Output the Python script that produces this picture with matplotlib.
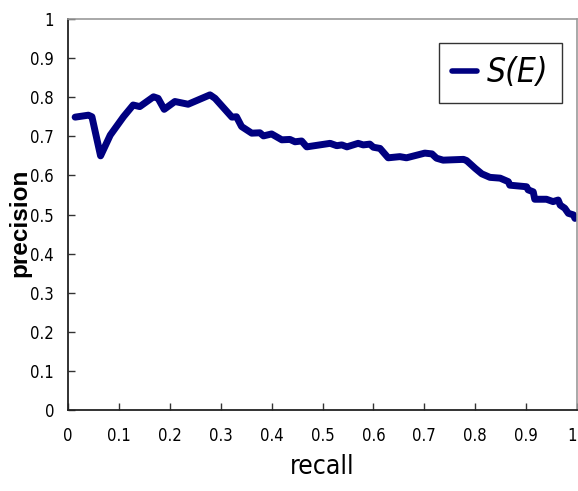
import matplotlib
matplotlib.use("Agg")
import matplotlib.pyplot as plt
from matplotlib import font_manager as fm

recall = [0.014, 0.040, 0.047, 0.064, 0.083, 0.109, 0.128, 0.141, 0.168, 0.177,
          0.189, 0.210, 0.236, 0.279, 0.289, 0.322, 0.331, 0.341, 0.361, 0.377,
          0.384, 0.400, 0.420, 0.436, 0.446, 0.459, 0.469, 0.515, 0.528, 0.538,
          0.548, 0.570, 0.580, 0.593, 0.600, 0.613, 0.629, 0.652, 0.665, 0.701,
          0.715, 0.724, 0.737, 0.777, 0.783, 0.800, 0.813, 0.829, 0.849, 0.865,
          0.868, 0.901, 0.904, 0.914, 0.917, 0.940, 0.953, 0.963, 0.967, 0.976,
          0.983, 0.993, 0.996]
precision = [0.749, 0.754, 0.750, 0.650, 0.703, 0.750, 0.780, 0.776, 0.801, 0.797,
             0.769, 0.789, 0.782, 0.806, 0.797, 0.749, 0.750, 0.725, 0.708, 0.709,
             0.701, 0.706, 0.691, 0.692, 0.686, 0.688, 0.673, 0.682, 0.676, 0.678,
             0.673, 0.682, 0.678, 0.680, 0.672, 0.669, 0.645, 0.648, 0.645, 0.657,
             0.655, 0.644, 0.639, 0.641, 0.638, 0.618, 0.604, 0.595, 0.593, 0.584,
             0.575, 0.571, 0.563, 0.558, 0.539, 0.539, 0.533, 0.537, 0.524, 0.516,
             0.503, 0.499, 0.490]
series_label = "S(E)"
ticks = [0, 0.1, 0.2, 0.3, 0.4, 0.5, 0.6, 0.7, 0.8, 0.9, 1]
tick_labels = ["0", "0.1", "0.2", "0.3", "0.4", "0.5", "0.6", "0.7", "0.8", "0.9", "1"]

def narrow_props(size, style="normal"):
    return fm.FontProperties(family="DejaVu Sans", stretch="condensed",
                             style=style, size=size)

W, H = 578, 491
fig = plt.figure(figsize=(W / 100, H / 100), dpi=100)
ax = fig.add_axes([68 / W, 1 - 410 / H, (577 - 68) / W, (410 - 19) / H])

ax.plot(recall, precision, color="#000080", lw=5, solid_capstyle="round",
        solid_joinstyle="round", label=series_label)

ax.set_xlim(0, 1)
ax.set_ylim(0, 1)
ax.set_xticks(ticks)
ax.set_xticklabels(tick_labels, fontproperties=narrow_props(12))
ax.get_xticklabels()[-1].set_horizontalalignment("right")
ax.set_yticks(ticks)
ax.set_yticklabels(tick_labels, fontproperties=narrow_props(12))
ax.tick_params(direction="in", length=5, width=1, top=False, right=False,
               color="#333333")
ax.tick_params(axis="x", pad=12)
ax.tick_params(axis="y", pad=10)

for s in ["left", "bottom"]:
    ax.spines[s].set_color("#222222")
    ax.spines[s].set_linewidth(1.3)
for s in ["top", "right"]:
    ax.spines[s].set_color("#999999")
    ax.spines[s].set_linewidth(1.2)

ax.set_xlabel("recall", fontproperties=narrow_props(19), labelpad=7)
ax.set_ylabel("precision", fontfamily="Liberation Sans", fontweight="bold",
              fontsize=17.5)
ax.yaxis.set_label_coords((31 - 68) / 509, (410 - 223) / 391)

leg = ax.legend(loc="upper right", bbox_to_anchor=(562 / W, 1 - 43 / H),
                bbox_transform=fig.transFigure, frameon=True, fancybox=False,
                handlelength=0.75, handletextpad=0.3, borderpad=0.4,
                borderaxespad=0, prop=narrow_props(24, style="italic"))
leg.get_frame().set_edgecolor("black")
leg.get_frame().set_linewidth(1.0)
for ln in leg.get_lines():
    ln.set_linewidth(4)

fig.savefig("out.png", dpi=100)
